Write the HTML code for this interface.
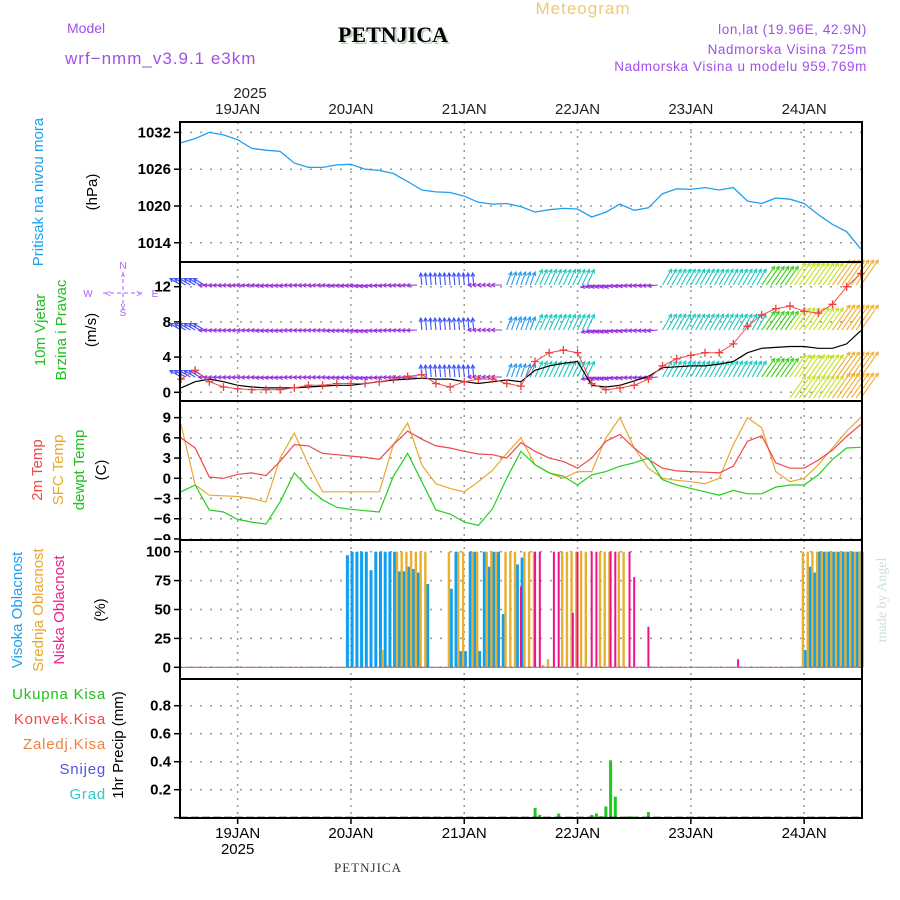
<!DOCTYPE html>
<html><head><meta charset="utf-8"><style>
html,body{margin:0;padding:0;background:#fff;}
svg{display:block;font-family:"Liberation Sans",sans-serif;}
</style></head><body>
<svg id="chart" width="900" height="900" viewBox="0 0 900 900">
<text x="583" y="14" font-size="17" fill="#f0c878" text-anchor="middle" letter-spacing="1">Meteogram</text>
<text x="67" y="33" font-size="14" fill="#a050e8">Model</text>
<text x="65" y="64" font-size="17" fill="#a050e8" letter-spacing="1">wrf−nmm_v3.9.1 e3km</text>
<text x="395" y="44" font-size="22" font-family="Liberation Serif,serif" font-weight="bold" fill="#bcd4bc" text-anchor="middle">PETNJICA</text>
<text x="393" y="42" font-size="22" font-family="Liberation Serif,serif" font-weight="bold" fill="#000" text-anchor="middle">PETNJICA</text>
<text x="867" y="34" font-size="13.5" fill="#a050e8" text-anchor="end" letter-spacing="0.6">lon,lat (19.96E, 42.9N)</text>
<text x="867" y="54" font-size="13.5" fill="#a050e8" text-anchor="end" letter-spacing="0.6">Nadmorska Visina 725m</text>
<text x="867" y="71" font-size="13.5" fill="#a050e8" text-anchor="end" letter-spacing="0.6">Nadmorska Visina u modelu 959.769m</text>
<text x="250" y="98" font-size="15" fill="#222" text-anchor="middle">2025</text>
<text x="368" y="872" font-size="13" font-family="Liberation Serif,serif" fill="#333" text-anchor="middle" letter-spacing="1">PETNJICA</text>
<text transform="translate(886,600) rotate(-90)" font-size="14" font-family="Liberation Serif,serif" fill="#cfe0cf" text-anchor="middle">made by Angel</text>

<g font-size="15" text-anchor="middle">
<text transform="translate(43,192) rotate(-90)" fill="#1ea0f0">Pritisak na nivou mora</text>
<text transform="translate(97,192) rotate(-90)" fill="#000">(hPa)</text>
<text transform="translate(45,330) rotate(-90)" fill="#20c020">10m Vjetar</text>
<text transform="translate(66,330) rotate(-90)" fill="#20c020">Brzina i Pravac</text>
<text transform="translate(96,330) rotate(-90)" fill="#000">(m/s)</text>
<text transform="translate(42,470) rotate(-90)" fill="#f04848">2m Temp</text>
<text transform="translate(63,470) rotate(-90)" fill="#e8a830">SFC Temp</text>
<text transform="translate(84,470) rotate(-90)" fill="#20c020">dewpt Temp</text>
<text transform="translate(106,470) rotate(-90)" fill="#000">(C)</text>
<text transform="translate(22,610) rotate(-90)" fill="#1ea0f0">Visoka Oblacnost</text>
<text transform="translate(43,610) rotate(-90)" fill="#e8a830">Srednja Oblacnost</text>
<text transform="translate(64,610) rotate(-90)" fill="#f0208c">Niska Oblacnost</text>
<text transform="translate(105,610) rotate(-90)" fill="#000">(%)</text>
<text transform="translate(123,745) rotate(-90)" fill="#000">1hr Precip (mm)</text>
</g>
<g font-size="15" text-anchor="end" letter-spacing="0.8">
<text x="106" y="699" fill="#20c020">Ukupna  Kisa</text>
<text x="106" y="724" fill="#f04848">Konvek.Kisa</text>
<text x="106" y="749" fill="#f08040">Zaledj.Kisa</text>
<text x="106" y="774" fill="#5050f0">Snijeg</text>
<text x="106" y="799" fill="#30c8c8">Grad</text>
</g>
<g fill="#b060f0" stroke="#b060f0" font-size="10" text-anchor="middle">
<text x="123" y="269" stroke="none">N</text><text x="123" y="316" stroke="none">S</text>
<text x="88" y="297" stroke="none">W</text><text x="155" y="297" stroke="none">E</text>
<line x1="123" y1="272" x2="123" y2="307" stroke-dasharray="4,3"/><line x1="103" y1="293" x2="143" y2="293" stroke-dasharray="4,3"/>
<text x="123" y="280" stroke="none" font-size="9">^</text><text x="108" y="297" stroke="none">&lt;</text><text x="139" y="297" stroke="none">&gt;</text><text x="123" y="309" stroke="none" font-size="9">v</text>
</g>
<g id="plot"></g>
</svg>
<script>
// ---- data (3-hourly from 18 Jan 12Z) ----
const hours3 = [0,3,6,9,12,15,18,21,24,27,30,33,36,39,42,45,48,51,54,57,60,63,66,69,72,75,78,81,84,87,90,93,96,99,102,105,108,111,114,117,120,123,126,129,132,135,138,141,144];
const pressure = [1030.3,1031.0,1032.0,1031.6,1030.8,1029.4,1029.1,1028.9,1027.0,1026.3,1026.3,1026.7,1026.8,1026.0,1025.8,1025.3,1024.0,1022.6,1022.3,1022.2,1021.6,1020.6,1020.3,1020.4,1019.9,1019.0,1019.4,1019.6,1019.5,1018.2,1019.0,1020.3,1019.3,1019.7,1022.0,1022.8,1022.7,1023.0,1022.6,1023.0,1020.8,1020.4,1021.3,1021.1,1020.4,1018.6,1017.0,1015.8,1013.0];
const windSpeed = [0.5,1.2,1.5,1.2,0.8,0.6,0.5,0.5,0.5,0.6,0.7,0.8,0.8,1,1.2,1.4,1.5,1.6,1.5,1.5,1.2,1,1.2,1.4,1.2,2.5,3,3.3,3.5,0.8,0.6,0.8,1.3,1.8,2.8,2.9,3,3,3.2,3.5,4.5,5,5.1,5.2,5.2,5,5,5.5,7];
const windGust = [1.5,2.5,1.2,0.6,0.4,0.3,0.3,0.3,0.5,0.8,0.8,1,1,1,1.2,1.5,1.8,2,1,0.6,1.2,1.5,1.5,1,0.7,3.5,4.5,4.8,4.5,1,0.3,0.5,0.8,1.5,3,3.8,4.2,4.5,4.5,5.5,7.5,8.8,9.5,9.8,9.2,9,10,12,13.5];
const arrowMag = [3.5,3.5,2.5,2.5,2.5,2.5,2.5,2.5,2.5,2.5,2.5,2.5,2.5,2.5,2.5,2.5,2.5,3.2,3.2,3.2,3.2,2.5,2.5,4,4,5.5,5.5,5.5,5.5,2.5,2.5,2.5,2.5,2.5,6,6,6,6,6,6,6,8,8,10,10,10,11.5,11.5,11.5];
const arrowDir = [150,150,183,183,183,183,185,185,183,183,183,185,185,188,185,183,183,95,95,95,95,180,180,70,70,65,65,65,65,192,192,188,185,185,60,60,60,60,60,60,60,55,55,55,55,55,55,55,55];
const temp2m = [6,4.5,0.2,0,0.6,0.8,0.4,2.5,5,4.8,3.7,3.5,3.3,3.1,2.8,5,7,5.8,4.8,4.5,4,3.6,3.5,3,5.3,4,3,2.5,1.5,3,5.5,6.5,4.5,2.8,1.5,1.1,1,0.9,0.8,1.8,5.5,6.3,2.3,1.5,1.5,2.7,4.2,6.2,8];
const tempSfc = [8,-1,-2.5,-2.6,-2.7,-3,-3.5,3,6.7,2,-2,-2,-2,-2,-2,5,8.2,2,-0.8,-1.5,-2,-0.5,1.2,3.7,6,2,0.8,0,1,1,6,9,4.5,1.5,0,-0.3,-0.5,-0.8,0,5,9,7.5,1,-0.5,0,2,4.5,7,9];
const dewpt = [-2,-1,-4.7,-5,-6.1,-6.5,-6.8,-3.5,0.8,-1.5,-3.2,-4.3,-4.6,-4.8,-5,0.3,3.7,-0.5,-4.7,-5.3,-6.5,-7,-4.5,0,4,2,0.8,0.3,-1,0.5,1,1.8,2.3,3,-0.2,-1,-1.5,-2,-2.5,-1.8,-2.3,-2.3,-1.3,-1,-1,0.5,2.8,4.5,4.6];
// hourly cloud & precip (sparse: hour -> value)
const highHours = [35,36,37,38,39,40,41,42,43,44,45,46,47,48,49,50,52,57,58,59,60,61,62,63,64,65,66,67,68,71,72,132,133,134,135,136,137,138,139,140,141,142,143,144];
const highVals  = [97,100,100,100,100,84,100,100,100,100,100,83,83,87,85,82,72,68,100,14,14,100,100,14,100,87,100,100,46,89,95,15,87,82,100,100,100,100,100,100,100,100,100,100];
const midHours = [43,44,46,47,48,49,50,51,52,57,59,60,62,63,65,66,67,69,70,71,73,74,75,77,78,81,82,83,84,85,86,89,90,91,93,94,132,133,134,135,136,137,138,139,140,141,142,143,144];
const midVals  = [15,2,100,100,100,100,100,100,100,100,100,100,100,100,100,100,100,100,100,100,100,100,100,2,7,100,100,100,100,100,100,100,100,100,100,100,100,100,100,100,100,100,100,100,100,100,100,100,100];
const lowHours = [72,75,76,79,80,83,84,87,88,91,92,95,96,99,118];
const lowVals  = [70,100,100,100,100,47,100,100,100,100,100,100,78,35,7];
const precipHours = [75,76,80,87,88,89,90,91,92,95,99];
const precipVals  = [0.07,0.02,0.03,0.02,0.03,0.01,0.08,0.41,0.15,0.01,0.04];
const dayHours = [12,36,60,84,108,132];
const dayLabels = ['19JAN','20JAN','21JAN','22JAN','23JAN','24JAN'];
const pTicks = [1032,1026,1020,1014];
const wTicks = [12,8,4,0];
const tTicks = [9,6,3,0,-3,-6,-9];
const cTicks = [100,75,50,25,0];
const rTicks = [0.8,0.6,0.4,0.2,0];
const rTickLabels = ['0.8','0.6','0.4','0.2','0'];

// ---- scales ----
const X0=181, PXH=113.3/24, L=180, R=862;
const x = h => X0 + h*PXH;
const yP = p => 122 + (1033.7-p)*6.13;
const yW = w => 392.3 - w*8.8;
const yT = t => 478.3 - t*6.74;
const yC = c => 667.3 - c*1.156;
const yR = r => 817.7 - r*140;
const panels = [[122,262],[262,401],[401,540],[540,679],[679,818]];

const NS='http://www.w3.org/2000/svg';
const plot=document.getElementById('plot');
function mk(tag,attrs,parent){const e=document.createElementNS(NS,tag);for(const k in attrs)e.setAttribute(k,attrs[k]);(parent||plot).appendChild(e);return e;}

// grids
panels.forEach((p,i)=>{
  dayHours.forEach(h=>{
    const g=mk('line',{x1:x(h),x2:x(h),y1:p[0],y2:p[1],stroke:'#999','stroke-dasharray':'2,5','stroke-width':1.5});
    
    
  });
});
function hgrid(ticks,fy,labels,top,bot){
  ticks.forEach((t,i)=>{
    const yy=fy(t);
    const g=mk('line',{x1:L,x2:R,y1:yy,y2:yy,stroke:'#999','stroke-dasharray':'2,8','stroke-width':1.5});
    
    
    const tk=mk('line',{x1:L-6,x2:L,y1:yy,y2:yy,stroke:'#000','stroke-width':1.5});
    
    
    const tx=mk('text',{x:L-9,y:yy+5,'font-size':15,'text-anchor':'end',fill:'#000','font-weight':'bold'});
    tx.textContent=labels?labels[i]:String(t).replace('-','−');
    
    
    if(yy+5>bot){tx.setAttribute('clip-path','url(#clipT)');}
  });
}
const defs=mk('defs',{});
const cp=mk('clipPath',{id:'clipT'},defs);mk('rect',{x:0,y:0,width:900,height:540},cp);
hgrid(pTicks,yP,null,122,262);
hgrid(wTicks,yW,null,262,401);
hgrid(tTicks,yT,null,401,540);
hgrid(cTicks,yC,null,540,679);
hgrid(rTicks,yR,rTickLabels,679,818);

function line(xs,ys,color,w,name){
  const d=xs.map((v,i)=>(i?'L':'M')+x(v).toFixed(1)+','+ys[i].toFixed(1)).join('');
  const e=mk('path',{d:d,fill:'none',stroke:color,'stroke-width':w||1.3});
  
  
  return e;
}
// pressure
line(hours3,pressure.map(yP),'#1ea0f0',1.3,'pressure-line');

// wind arrows
const rowsY=[377,330,285];
function arrowColor(m){return m<3?'#9a30e0':m<3.8?'#3a50ff':m<5?'#2898f0':m<7?'#20c8c0':m<9?'#40d020':m<11?'#c8e028':'#f0b030';}
hours3.forEach((h,k)=>{
  const m=arrowMag[k], a=arrowDir[k]*Math.PI/180, len=5+m*2.2, col=arrowColor(m);
  const rows = m>=10 ? rowsY.concat([398]) : rowsY;
  for(let s=0;s<3;s++){
    if(k===hours3.length-1 && s>0) break;
    rows.forEach(ry=>{
      const tx=x(h+s), ty=ry;
      const hx=tx+len*Math.cos(a), hy=ty-len*Math.sin(a);
      const b1=a+Math.PI-0.5, b2=a+Math.PI+0.5;
      const e=mk('path',{d:`M${tx.toFixed(1)},${ty.toFixed(1)}L${hx.toFixed(1)},${hy.toFixed(1)}M${(hx+4*Math.cos(b1)).toFixed(1)},${(hy-4*Math.sin(b1)).toFixed(1)}L${hx.toFixed(1)},${hy.toFixed(1)}L${(hx+4*Math.cos(b2)).toFixed(1)},${(hy-4*Math.sin(b2)).toFixed(1)}`,stroke:col,'stroke-width':1.1,fill:'none'});
      
      
    });
  }
});
// wind speed & gust
line(hours3,windSpeed.map(yW),'#000',1.2,'wind-speed-line');
line(hours3,windGust.map(yW),'#f05050',1,'wind-gust-line');
hours3.forEach((h,k)=>{
  const cx=x(h), cy=yW(windGust[k]);
  const e=mk('path',{d:`M${cx-4},${cy}h8M${cx},${cy-4}v8`,stroke:'#f04040','stroke-width':1.3});
  
  
});

// temperatures
line(hours3,tempSfc.map(yT),'#e8a830',1.2,'sfc-temp-line');
line(hours3,temp2m.map(yT),'#f04848',1.2,'temp-2m-line');
line(hours3,dewpt.map(yT),'#20d020',1.2,'dewpt-line');

// clouds
function bars(hs,vs,fy,color,off,w,name,base){
  hs.forEach((h,i)=>{
    const yy=fy(vs[i]);
    const e=mk('rect',{x:(x(h)+off-w/2).toFixed(1),y:yy.toFixed(1),width:w,height:Math.max(0,base-yy).toFixed(1),fill:color});
    
    
  });
}
const cb=yC(0);
bars(highHours,highVals,yC,'#10a0f0',1.2,3,'high-cloud-bar',cb);
bars(midHours,midVals,yC,'#e8b030',-1.2,2.4,'mid-cloud-bar',cb);
bars(lowHours,lowVals,yC,'#f0108c',0,2,'low-cloud-bar',cb);
let e0=mk('line',{x1:L,x2:R,y1:cb,y2:cb,stroke:'#e04070','stroke-dasharray':'3,3','stroke-width':1.2});


e0=mk('line',{x1:L,x2:R,y1:cb,y2:cb,stroke:'#40a0e0','stroke-dasharray':'3,3','stroke-dashoffset':3,'stroke-width':1.2});



// precip
bars(precipHours,precipVals,yR,'#20c820',0,3,'precip-bar',yR(0));
e0=mk('line',{x1:L,x2:R,y1:yR(0),y2:yR(0),stroke:'#000','stroke-dasharray':'8,3','stroke-width':2});



// panel frames
panels.forEach(p=>{
  const e=mk('rect',{x:L,y:p[0],width:R-L,height:p[1]-p[0],fill:'none',stroke:'#000','stroke-width':2});
  
  
});
// day labels
dayHours.forEach((h,i)=>{
  let t=mk('text',{x:x(h),y:114,'font-size':15,'text-anchor':'middle',fill:'#222'});
  t.textContent=dayLabels[i];
  
  
  t=mk('text',{x:x(h),y:838,'font-size':15,'text-anchor':'middle',fill:'#000'});
  t.textContent=dayLabels[i];
  
  
  const tk=mk('line',{x1:x(h),x2:x(h),y1:818,y2:824,stroke:'#000','stroke-width':1.5});
  
  
});
const yr=mk('text',{x:x(12),y:854,'font-size':15,'text-anchor':'middle',fill:'#000'});
yr.textContent='2025';


</script>
</body></html>
